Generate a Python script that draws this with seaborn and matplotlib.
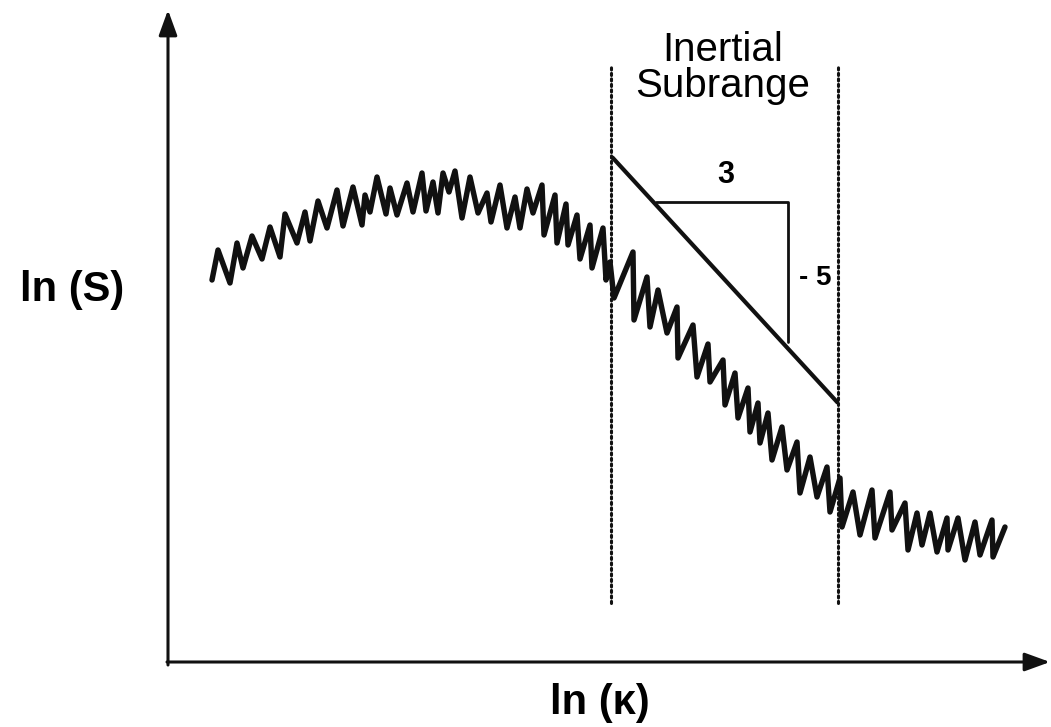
import numpy as np
import pandas as pd
import matplotlib
matplotlib.use("Agg")
import matplotlib.pyplot as plt
import seaborn as sns

# spectrum sketch: ln(kappa) vs ln(S), diagram units measured from the axes origin
ln_k = [44, 50, 62, 69, 75, 84, 94, 102, 112, 117, 129, 137, 142, 150, 159, 169,
        175, 185, 194, 197, 202, 209, 218, 222, 229, 239, 245, 254, 258, 265, 270,
        275, 281, 287, 294, 302, 310, 319, 323, 332, 339, 347, 352, 359, 365, 374,
        376, 387, 389, 398, 400, 409, 412, 422, 424, 435, 438, 442, 446, 465, 466,
        479, 482, 490, 499, 509, 510, 525, 529, 540, 542, 555, 557, 567, 570, 580,
        582, 590, 592, 600, 604, 614, 619, 629, 632, 642, 649, 659, 662, 672, 674,
        685, 692, 704, 707, 722, 724, 737, 740, 749, 754, 762, 769, 779, 780, 790,
        797, 807, 812, 824, 825, 837]
ln_S = [382, 412, 379, 419, 394, 426, 403, 435, 405, 448, 419, 450, 421, 461, 434, 472,
        436, 475, 437, 467, 450, 485, 448, 474, 447, 479, 450, 489, 451, 480, 449,
        489, 470, 491, 444, 485, 449, 469, 440, 477, 434, 465, 434, 473, 449, 477,
        427, 467, 419, 458, 417, 447, 403, 437, 394, 434, 382, 400, 364, 410, 342,
        385, 335, 372, 329, 355, 304, 337, 285, 318, 280, 302, 257, 289, 244, 274,
        230, 259, 219, 249, 202, 235, 192, 220, 169, 205, 165, 195, 150, 184, 135,
        170, 127, 172, 124, 170, 132, 159, 112, 149, 117, 149, 110, 144, 112, 144,
        102, 140, 107, 142, 105, 135]

# inertial subrange bounds and the -5/3 slope guide
subrange_k = [443, 670]
subrange_S = [59, 597]
slope_k = [444, 670]
slope_S = [505, 259]
tri_k = [488, 620, 620]
tri_S = [460, 460, 320]
k_axis_end = 882
S_axis_end = 652

sns.set_theme(style="white")
plt.rcParams["font.family"] = ["Liberation Sans", "DejaVu Sans"]
plt.rcParams["text.color"] = "black"

fig = plt.figure(figsize=(10.51, 7.27), dpi=100)
ax = fig.add_axes([0, 0, 1, 1])
ax.set_xlim(-168, 883)
ax.set_ylim(-65, 662)
ax.axis("off")

spec = pd.DataFrame({"ln_k": ln_k, "ln_S": ln_S})
sns.lineplot(data=spec, x="ln_k", y="ln_S", sort=False, estimator=None,
             color="#111111", lw=3.9, ax=ax, solid_joinstyle="round",
             solid_capstyle="round")

for xk in subrange_k:
    ax.plot([xk, xk], subrange_S, color="#111111", lw=2.2,
            linestyle=(0, (0.7, 1.1)), dash_capstyle="round")

ax.plot(slope_k, slope_S, color="#111111", lw=3.0, solid_capstyle="butt")
ax.plot(tri_k, tri_S, color="#111111", lw=2.0)

# axes with arrowheads
arrow = dict(arrowstyle="-|>,head_length=1.1,head_width=0.4", color="#111111",
             lw=2.2, shrinkA=0, shrinkB=0, mutation_scale=14)
ax.annotate("", xy=(0, S_axis_end), xytext=(0, -3), arrowprops=arrow)
ax.annotate("", xy=(k_axis_end, 0), xytext=(-1, 0), arrowprops=arrow)

ax.text(-96, 372, "ln (S)", fontsize=30, fontweight="bold", ha="center", va="center")
ax.text(432, -41, "ln (κ)", fontsize=30, fontweight="bold", ha="center", va="center")
ax.text(555, 594, "Inertial\nSubrange", fontsize=29, ha="center", va="center",
        linespacing=0.95)
ax.text(558, 487, "3", fontsize=22, fontweight="bold", ha="center", va="center")
ax.text(647, 384, "- 5", fontsize=20, fontweight="bold", ha="center", va="center")

fig.savefig("out.png", dpi=100, facecolor="white")
